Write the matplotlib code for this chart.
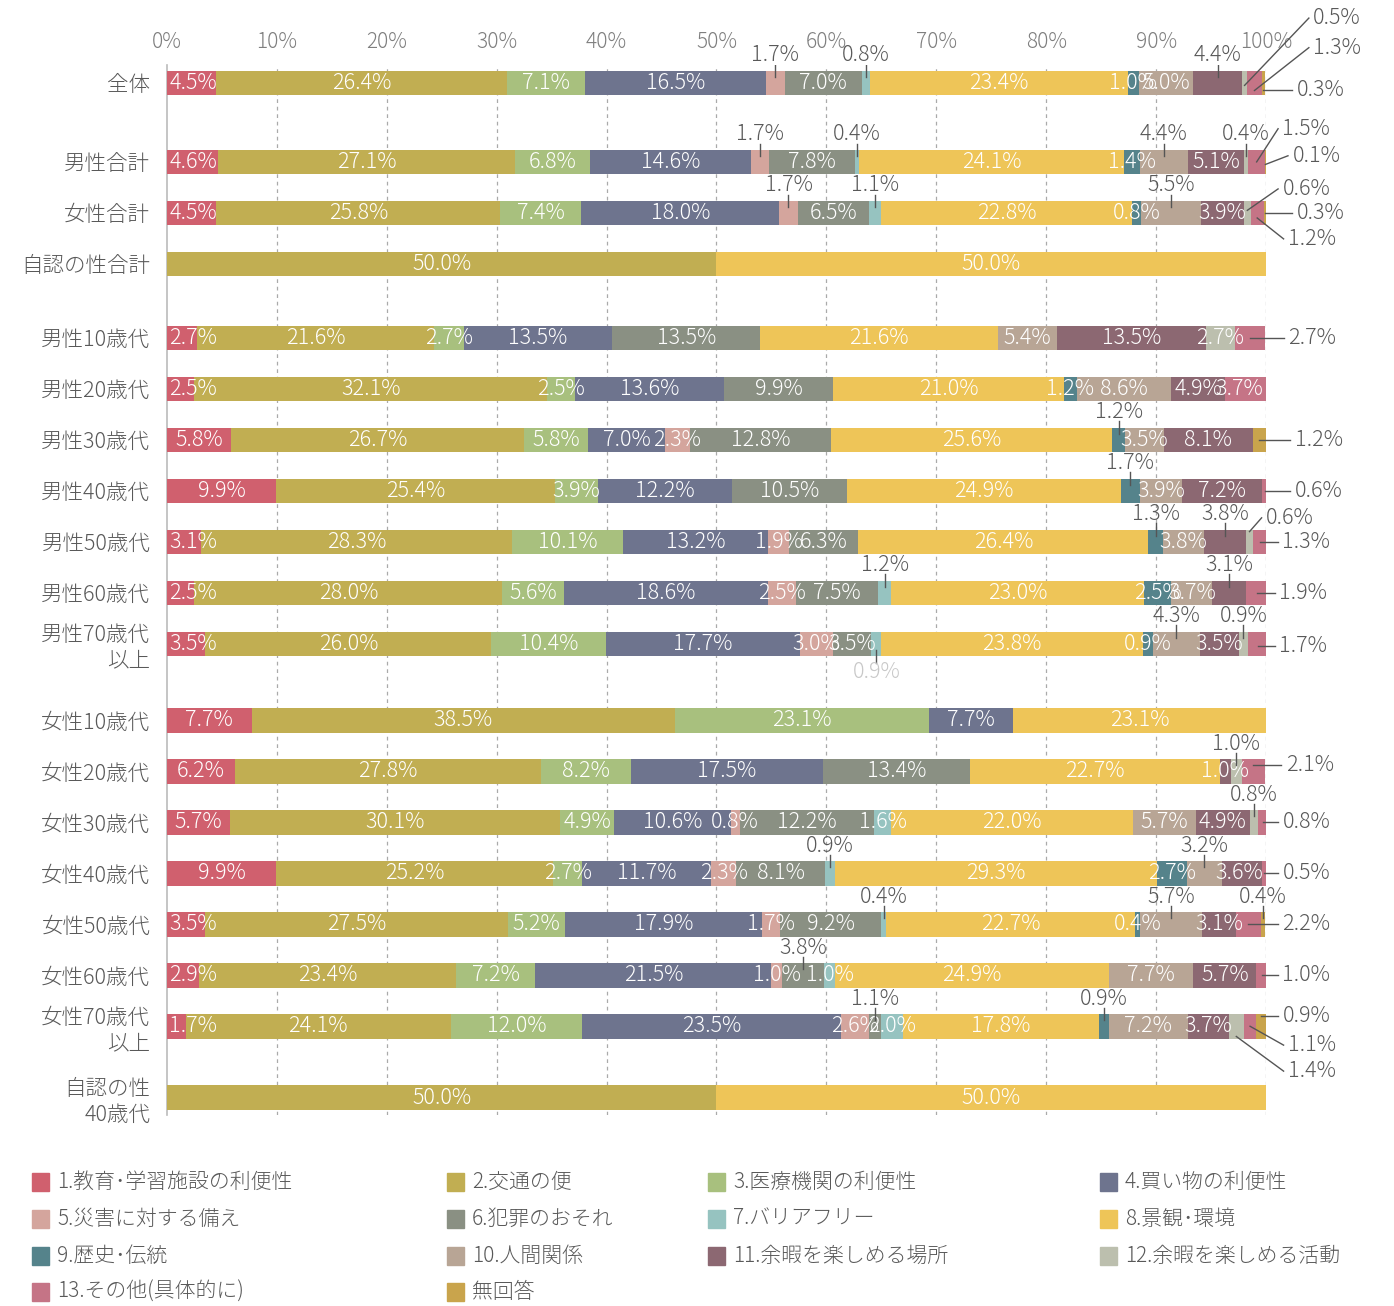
import matplotlib
matplotlib.use('Agg')
import matplotlib.pyplot as plt
from matplotlib.patches import Rectangle

plt.rcParams['font.family'] = ['Noto Sans CJK JP', 'DejaVu Sans']

# 行ラベル
categories = ['全体', '男性合計', '女性合計', '自認の性合計',
              '男性10歳代', '男性20歳代', '男性30歳代', '男性40歳代', '男性50歳代', '男性60歳代', '男性70歳代\n以上',
              '女性10歳代', '女性20歳代', '女性30歳代', '女性40歳代', '女性50歳代', '女性60歳代', '女性70歳代\n以上',
              '自認の性\n40歳代']

series_names = ['1.教育･学習施設の利便性', '2.交通の便', '3.医療機関の利便性', '4.買い物の利便性',
                '5.災害に対する備え', '6.犯罪のおそれ', '7.バリアフリー', '8.景観･環境',
                '9.歴史･伝統', '10.人間関係', '11.余暇を楽しめる場所', '12.余暇を楽しめる活動',
                '13.その他(具体的に)', '無回答']

# 各系列の値（%）
s01 = [4.5, 4.6, 4.5, 0, 2.7, 2.5, 5.8, 9.9, 3.1, 2.5, 3.5, 7.7, 6.2, 5.7, 9.9, 3.5, 2.9, 1.7, 0]
s02 = [26.4, 27.1, 25.8, 50.0, 21.6, 32.1, 26.7, 25.4, 28.3, 28.0, 26.0, 38.5, 27.8, 30.1, 25.2, 27.5, 23.4, 24.1, 50.0]
s03 = [7.1, 6.8, 7.4, 0, 2.7, 2.5, 5.8, 3.9, 10.1, 5.6, 10.4, 23.1, 8.2, 4.9, 2.7, 5.2, 7.2, 12.0, 0]
s04 = [16.5, 14.6, 18.0, 0, 13.5, 13.6, 7.0, 12.2, 13.2, 18.6, 17.7, 7.7, 17.5, 10.6, 11.7, 17.9, 21.5, 23.5, 0]
s05 = [1.7, 1.7, 1.7, 0, 0, 0, 2.3, 0, 1.9, 2.5, 3.0, 0, 0, 0.8, 2.3, 1.7, 1.0, 2.6, 0]
s06 = [7.0, 7.8, 6.5, 0, 13.5, 9.9, 12.8, 10.5, 6.3, 7.5, 3.5, 0, 13.4, 12.2, 8.1, 9.2, 3.8, 1.1, 0]
s07 = [0.8, 0.4, 1.1, 0, 0, 0, 0, 0, 0, 1.2, 0.9, 0, 0, 1.6, 0.9, 0.4, 1.0, 2.0, 0]
s08 = [23.4, 24.1, 22.8, 50.0, 21.6, 21.0, 25.6, 24.9, 26.4, 23.0, 23.8, 23.1, 22.7, 22.0, 29.3, 22.7, 24.9, 17.8, 50.0]
s09 = [1.0, 1.4, 0.8, 0, 0, 1.2, 1.2, 1.7, 1.3, 2.5, 0.9, 0, 0, 0, 2.7, 0.4, 0, 0.9, 0]
s10 = [5.0, 4.4, 5.5, 0, 5.4, 8.6, 3.5, 3.9, 3.8, 3.7, 4.3, 0, 0, 5.7, 3.2, 5.7, 7.7, 7.2, 0]
s11 = [4.4, 5.1, 3.9, 0, 13.5, 4.9, 8.1, 7.2, 3.8, 3.1, 3.5, 0, 1.0, 4.9, 3.6, 3.1, 5.7, 3.7, 0]
s12 = [0.5, 0.4, 0.6, 0, 2.7, 0, 0, 0, 0.6, 0, 0.9, 0, 1.0, 0.8, 0, 0, 0, 1.4, 0]
s13 = [1.3, 1.5, 1.2, 0, 2.7, 3.7, 0, 0.6, 1.3, 1.9, 1.7, 0, 2.1, 0.8, 0.5, 2.2, 1.0, 1.1, 0]
s14 = [0.3, 0.1, 0.3, 0, 0, 0, 1.2, 0, 0, 0, 0, 0, 0, 0, 0, 0.4, 0, 0.9, 0]
series = [s01, s02, s03, s04, s05, s06, s07, s08, s09, s10, s11, s12, s13, s14]

colors = ['#d0606e', '#c1ae52', '#a8c07e', '#6e748e', '#d4a59d', '#8a9083', '#96c3c0',
          '#eec558', '#55838b', '#b8a595', '#8c6872', '#bcbfae', '#c57486', '#c9a44c']

# レイアウト（行位置：グループ間に隙間）
gap_after = {0: 0.55, 3: 0.45, 10: 0.5, 17: 0.4}
ypos = []
off = 0
for i in range(len(categories)):
    ypos.append(i + off)
    off += gap_after.get(i, 0)

# 外側ラベル: 上に表示 (行, 系列)
ann_up = [(0, 4), (0, 6), (0, 10), (1, 4), (1, 6), (1, 9), (1, 11), (2, 4), (2, 6), (2, 9),
          (6, 8), (7, 8), (8, 8), (8, 10), (9, 6), (9, 10), (10, 9), (10, 11),
          (12, 11), (13, 11), (14, 6), (14, 9), (15, 6), (15, 9), (15, 13), (16, 5), (17, 5), (17, 8)]
ann_down = [(10, 6)]
# 右側ラベル: (行, 系列, 文字x, 文字dy, 引出線dy)
ann_side = [(0, 11, 104.3, -1.27, 0.05), (0, 12, 104.3, -0.69, 0.15), (0, 13, 102.8, 0.14, 0.14),
            (1, 12, 101.5, -0.65, 0.0), (1, 13, 102.4, -0.12, 0.05),
            (2, 11, 101.5, -0.47, -0.05), (2, 13, 102.8, 0.0, 0.0), (2, 12, 102.0, 0.51, 0.1),
            (4, 12, 102.0, 0, 0), (6, 13, 102.6, 0, 0), (7, 12, 102.6, 0, 0),
            (8, 11, 100.0, -0.47, -0.2), (8, 12, 101.5, 0, 0), (9, 12, 101.2, 0, 0),
            (10, 12, 101.2, 0.04, 0.04), (12, 12, 101.8, -0.12, -0.12), (13, 12, 101.5, 0, 0),
            (14, 12, 101.5, 0, 0), (15, 12, 101.5, 0, 0), (16, 12, 101.5, 0, 0),
            (17, 13, 101.5, -0.2, -0.2), (17, 12, 102.0, 0.37, 0.0), (17, 11, 102.0, 0.88, 0.2)]

W, H = 1394, 1306
fig = plt.figure(figsize=(W / 100, H / 100), dpi=100)
ax = fig.add_axes([167 / W, (H - 1115) / H, (1266 - 167) / W, (1115 - 65) / H])

txt_col = '#595959'
fs = 15.5
bar_h = 0.48

lefts = [0.0] * len(categories)
centers = {}
for j, vals in enumerate(series):
    ax.barh(ypos, vals, left=lefts, height=bar_h, color=colors[j], edgecolor='none', zorder=3)
    for i, v in enumerate(vals):
        centers[(i, j)] = lefts[i] + v / 2
    lefts = [l + v for l, v in zip(lefts, vals)]

outside = set(ann_up) | set(ann_down) | {(a[0], a[1]) for a in ann_side}
for j, vals in enumerate(series):
    for i, v in enumerate(vals):
        if v <= 0 or (i, j) in outside:
            continue
        # 棒の端からはみ出さないように寄せる
        cx = min(max(centers[(i, j)], 2.4), 97.6)
        ax.text(cx, ypos[i], f'{v:.1f}%', ha='center', va='center',
                color='white', fontsize=fs, fontweight='light', zorder=5)

for i, j in ann_up:
    cx, y = centers[(i, j)], ypos[i]
    ax.plot([cx, cx], [y - 0.36, y - 0.12], color='#555555', lw=1, zorder=6)
    ax.text(cx, y - 0.54, f'{series[j][i]:.1f}%', ha='center', va='center',
            color=txt_col, fontsize=fs, fontweight='light', zorder=6)

for i, j in ann_down:
    cx, y = centers[(i, j)], ypos[i]
    ax.plot([cx, cx], [y + 0.12, y + 0.38], color='#555555', lw=1, zorder=6)
    ax.text(cx, y + 0.56, f'{series[j][i]:.1f}%', ha='center', va='center',
            color='#c8c8c8', fontsize=fs, fontweight='light', zorder=6)

for i, j, tx, ty, ly in ann_side:
    cx, y = centers[(i, j)], ypos[i]
    ax.plot([cx, tx - 0.4], [y + ly, y + ty], color='#555555', lw=1, zorder=6, clip_on=False)
    ax.text(tx, y + ty, f'{series[j][i]:.1f}%', ha='left', va='center',
            color=txt_col, fontsize=fs, fontweight='light', zorder=6, clip_on=False)

# 軸
ax.set_xlim(0, 100)
ax.set_ylim(20.24, -0.35)
ax.xaxis.tick_top()
ax.set_xticks(range(0, 101, 10))
ax.set_xticklabels([f'{t}%' for t in range(0, 101, 10)], color='#7f7f7f', fontsize=15, fontweight='light')
ax.tick_params(axis='x', length=0, pad=9)
ax.set_yticks(ypos)
ax.set_yticklabels(categories, color=txt_col, fontsize=fs, fontweight='light', ha='right', multialignment='right')
ax.tick_params(axis='y', length=0, pad=12)
for s in ['top', 'right', 'bottom']:
    ax.spines[s].set_visible(False)
ax.spines['left'].set_color('#bbbbbb')
ax.spines['left'].set_linewidth(1.2)
for t in range(10, 101, 10):
    ax.axvline(t, color='#aaaaaa', lw=0.9, linestyle=(0, (3, 3)), zorder=1)

# 凡例（手動配置）
leg_x = [32, 447, 708, 1100]
leg_y = [1182, 1219, 1256, 1292]
for k, name in enumerate(series_names):
    px = leg_x[k % 4]
    py = leg_y[k // 4]
    fig.patches.append(Rectangle((px / W, (H - py - 9) / H), 17 / W, 18 / H,
                                 transform=fig.transFigure, color=colors[k]))
    fig.text((px + 25) / W, (H - py) / H, name, ha='left', va='center',
             color=txt_col, fontsize=15, fontweight='light')

fig.savefig('out.png', dpi=100)
